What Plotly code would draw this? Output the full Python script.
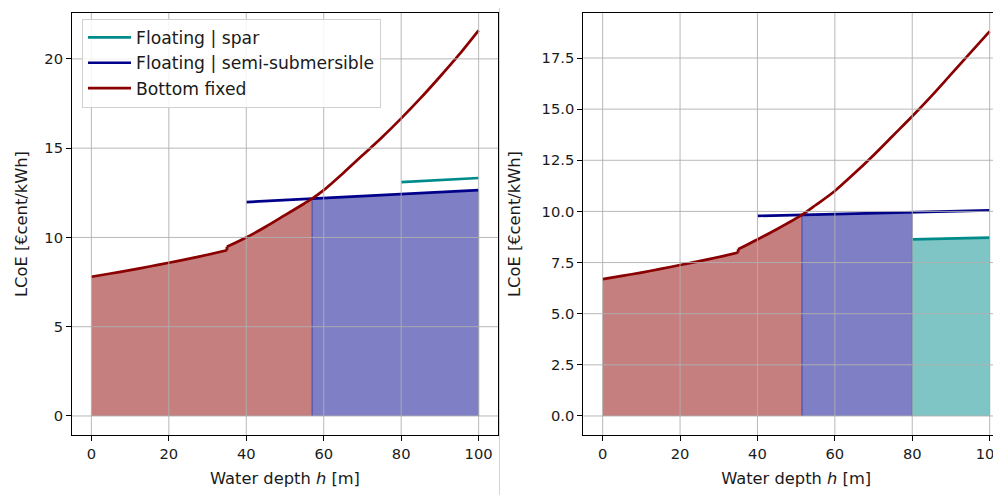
import numpy as np
import plotly.graph_objects as go

# ---------------- data ----------------
# Left panel
depth_bf_a = [0, 5, 10, 15, 20, 25, 30, 35, 35, 40, 45, 50, 55, 57, 60, 65, 70, 75, 80, 85, 90, 95, 100]
lcoe_bf_a = [7.8, 7.98, 8.17, 8.37, 8.58, 8.8, 9.03, 9.28, 9.48, 10.0, 10.6, 11.25, 11.9, 12.17, 12.65,
             13.6, 14.6, 15.6, 16.67, 17.8, 19.0, 20.25, 21.6]
depth_semi_a = [40, 100]
lcoe_semi_a = [11.98, 12.65]
depth_spar_a = [80, 100]
lcoe_spar_a = [13.1, 13.33]
switch_a = [57, 100]            # bottom fixed -> semi-sub -> end

# Right panel
depth_bf_b = [0, 5, 10, 15, 20, 25, 30, 35, 35, 40, 45, 51.5, 55, 60, 65, 70, 75, 80, 85, 90, 95, 100]
lcoe_bf_b = [6.69, 6.85, 7.01, 7.19, 7.38, 7.57, 7.77, 7.99, 8.15, 8.63, 9.13, 9.83, 10.3, 11.0,
             11.85, 12.75, 13.7, 14.65, 15.65, 16.7, 17.75, 18.8]
depth_semi_b = [40, 100]
lcoe_semi_b = [9.78, 10.05]
depth_spar_b = [80, 100]
lcoe_spar_b = [8.63, 8.72]
switch_b = [51.5, 80, 100]      # bottom fixed -> semi-sub -> spar -> end

x_ticks = [0, 20, 40, 60, 80, 100]
y_ticks_a = [0, 5, 10, 15, 20]
y_ticks_b = [0, 2.5, 5, 7.5, 10, 12.5, 15, 17.5]

names = ["Floating | spar", "Floating | semi-submersible", "Bottom fixed"]
col_spar, col_semi, col_bf = "#008B8B", "#00008B", "#8B0000"
fill_spar, fill_semi, fill_bf = "rgba(0,139,139,0.5)", "rgba(0,0,139,0.5)", "rgba(139,0,0,0.5)"

# ---------------- layout geometry (figure px; page adds an 8 px body margin) ----------------
W, H = 1001, 495
ML, MR, MT, MB = 64, 0, 5, 68
pw, ph = W - ML - MR, H - MT - MB


def px_x(p):
    return (p - ML) / pw


FONT = "DejaVu Sans"
GRID = "#b0b0b0"
LW = 2.7
fig = go.Figure()


def add_poly_fill(xs, ys, color, xa, ya):
    px_ = [xs[0]] + list(xs) + [xs[-1]]
    py_ = [0] + list(ys) + [0]
    fig.add_trace(go.Scatter(x=px_, y=py_, mode="lines", fill="toself", fillcolor=color,
                             line=dict(color=color, width=1), showlegend=False,
                             hoverinfo="skip", xaxis=xa, yaxis=ya))


def panel(dbf, lbf, dsemi, lsemi, dspar, lspar, switches, xa, ya, legend):
    dbf_arr = np.array(dbf, dtype=float)
    lbf_arr = np.array(lbf, dtype=float)
    # bottom fixed region
    m = dbf_arr <= switches[0]
    fig.add_trace(go.Scatter(x=dbf_arr[m], y=lbf_arr[m], mode="lines", fill="tozeroy",
                             fillcolor=fill_bf, line=dict(color=fill_bf, width=1),
                             showlegend=False, hoverinfo="skip", xaxis=xa, yaxis=ya))
    # semi-sub region
    s0, s1 = switches[0], switches[1]
    add_poly_fill([s0, s1], list(np.interp([s0, s1], dsemi, lsemi)), fill_semi, xa, ya)
    if len(switches) > 2:
        s2 = switches[2]
        add_poly_fill([s1, s2], list(np.interp([s1, s2], dspar, lspar)), fill_spar, xa, ya)
    # floating lines
    fig.add_trace(go.Scatter(x=dspar, y=lspar, mode="lines", name=names[0],
                             line=dict(color=col_spar, width=LW), showlegend=legend,
                             legendrank=1, xaxis=xa, yaxis=ya))
    fig.add_trace(go.Scatter(x=dsemi, y=lsemi, mode="lines", name=names[1],
                             line=dict(color=col_semi, width=LW), showlegend=legend,
                             legendrank=2, xaxis=xa, yaxis=ya))
    # bottom fixed curve: smooth pieces either side of the step, plus the step itself
    j = int(np.where(np.diff(dbf_arr) == 0)[0][0])      # index of the step
    pieces = [(dbf_arr[:j + 1], lbf_arr[:j + 1], "spline", False),
              (dbf_arr[j:j + 2], lbf_arr[j:j + 2], "linear", False),
              (dbf_arr[j + 1:], lbf_arr[j + 1:], "spline", legend)]
    for xs, ys, shp, leg in pieces:
        fig.add_trace(go.Scatter(x=xs, y=ys, mode="lines", name=names[2],
                                 line=dict(color=col_bf, width=LW, shape=shp, smoothing=0.8),
                                 showlegend=leg, legendrank=3, legendgroup="bf" + xa,
                                 xaxis=xa, yaxis=ya))
    # vertical grid lines (drawn over the translucent fills, as in the reference)
    for t in x_ticks:
        fig.add_shape(type="line", xref=xa, yref=ya + " domain", x0=t, x1=t, y0=0, y1=1,
                      line=dict(color=GRID, width=0.9), layer="above")


panel(depth_bf_a, lcoe_bf_a, depth_semi_a, lcoe_semi_a, depth_spar_a, lcoe_spar_a,
      switch_a, "x", "y", True)
panel(depth_bf_b, lcoe_bf_b, depth_semi_b, lcoe_semi_b, depth_spar_b, lcoe_spar_b,
      switch_b, "x2", "y2", False)

# horizontal grid lines
for ya, xa, ticks in [("y", "x", y_ticks_a), ("y2", "x2", y_ticks_b)]:
    for t in ticks:
        fig.add_shape(type="line", xref=xa + " domain", yref=ya, x0=0, x1=1, y0=t, y1=t,
                      line=dict(color=GRID, width=0.9), layer="above")

tickfont = dict(family=FONT, size=14.7, color="#1a1a1a")
titlefont = dict(family=FONT, size=16.3, color="#1a1a1a")
common = dict(showline=True, linecolor="black", linewidth=1.1, ticks="outside", ticklen=5,
              tickwidth=1.1, tickcolor="black", showgrid=False, zeroline=False,
              tickfont=tickfont, automargin=False, mirror=True)

fig.update_layout(
    width=W, height=H, margin=dict(l=ML, r=MR, t=MT, b=MB, autoexpand=False),
    paper_bgcolor="white", plot_bgcolor="white",
    xaxis=dict(domain=[0, px_x(490)], range=[-5, 105], tickvals=x_ticks,
               title=dict(text="Water depth <i>h</i> [m]", font=titlefont, standoff=11),
               anchor="y", **common),
    yaxis=dict(domain=[0, 1], range=[-1.065, 22.57], tickvals=y_ticks_a,
               title=dict(text="LCoE [€cent/kWh]", font=titlefont, standoff=12),
               anchor="x", **common),
    xaxis2=dict(domain=[px_x(575.3), 1], range=[-5, 105], tickvals=x_ticks,
                title=dict(text="Water depth <i>h</i> [m]", font=titlefont, standoff=11),
                anchor="y2", **common),
    yaxis2=dict(domain=[0, 1], range=[-0.93, 19.7], tickvals=y_ticks_b, tickformat=".1f",
                title=dict(text="LCoE [€cent/kWh]", font=titlefont, standoff=16),
                anchor="x2", **common),
    legend=dict(x=px_x(74), y=1 - (10.7 - MT) / ph, xanchor="left", yanchor="top",
                bgcolor="rgba(255,255,255,0.85)", bordercolor="#d0d0d0", borderwidth=1,
                font=dict(family=FONT, size=17.2, color="#1a1a1a"), itemwidth=43,
                tracegroupgap=0, traceorder="normal"),
    showlegend=True,
)

# thin separator between the two images
fig.add_shape(type="line", xref="paper", yref="paper", x0=px_x(491.5), x1=px_x(491.5),
              y0=-MB / ph, y1=1 + MT / ph, line=dict(color="#d4d4d4", width=1))

fig.write_html("out.html")
